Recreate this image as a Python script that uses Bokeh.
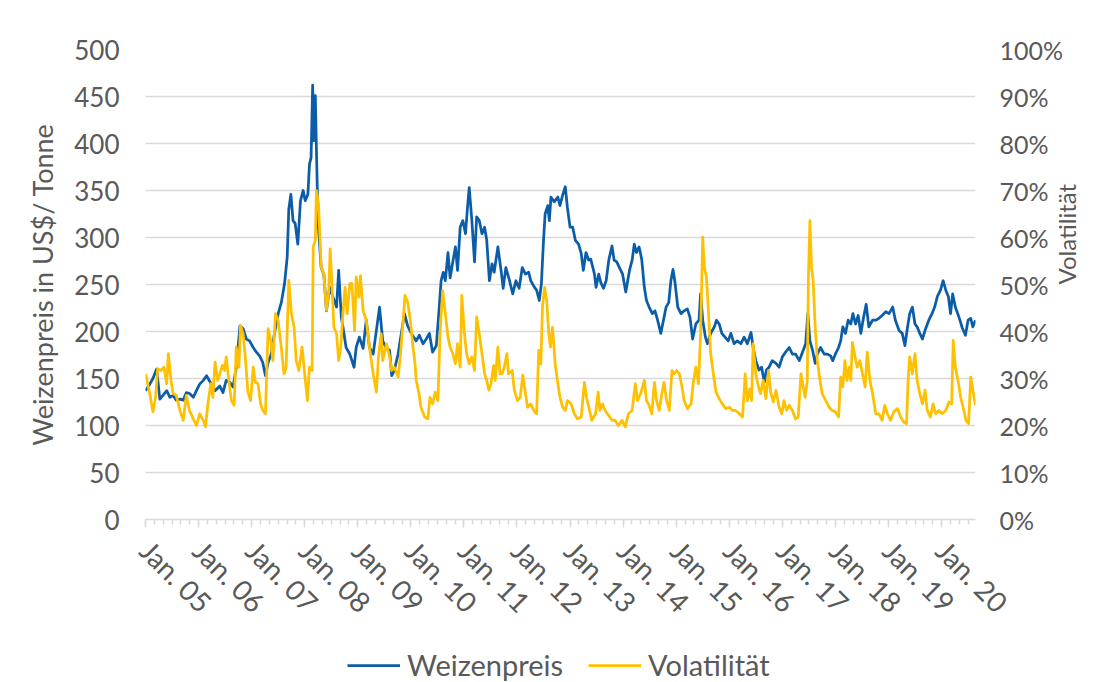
import math
from bokeh.plotting import figure
from bokeh.layouts import column
from bokeh.models import Range1d, LinearAxis, FixedTicker, PrintfTickFormatter, Legend, LegendItem
from bokeh.embed import file_html
from bokeh.resources import INLINE

# ---------------- data ----------------
# wheat price, US$/tonne; time as decimal year
price_t = [
    2005.00, 2005.08, 2005.14, 2005.21, 2005.27, 2005.33, 2005.40, 2005.46, 2005.52, 2005.58, 2005.65, 2005.71, 2005.77, 2005.83, 2005.90, 2005.96,
    2006.02, 2006.09, 2006.15, 2006.18, 2006.24, 2006.31, 2006.40, 2006.46, 2006.52, 2006.59, 2006.65, 2006.71, 2006.78, 2006.84, 2006.90, 2006.96,
    2007.03, 2007.09, 2007.15, 2007.21, 2007.26, 2007.31, 2007.37, 2007.43, 2007.50, 2007.56, 2007.62, 2007.67, 2007.70, 2007.74, 2007.78, 2007.82, 2007.87, 2007.92, 2007.97,
    2008.01, 2008.06, 2008.09, 2008.12, 2008.15, 2008.17, 2008.20, 2008.22, 2008.25, 2008.31, 2008.36, 2008.41, 2008.47, 2008.53, 2008.60, 2008.64, 2008.69, 2008.72, 2008.78, 2008.85, 2008.93, 2008.97,
    2009.03, 2009.10, 2009.16, 2009.22, 2009.29, 2009.35, 2009.41, 2009.47, 2009.54, 2009.60, 2009.64, 2009.69, 2009.76, 2009.82, 2009.88, 2009.94,
    2010.01, 2010.10, 2010.16, 2010.23, 2010.29, 2010.35, 2010.41, 2010.48, 2010.53, 2010.57, 2010.61, 2010.65, 2010.70, 2010.74, 2010.79, 2010.84, 2010.88, 2010.93, 2010.98,
    2011.03, 2011.07, 2011.10, 2011.15, 2011.20, 2011.24, 2011.29, 2011.34, 2011.39, 2011.43, 2011.48, 2011.53, 2011.57, 2011.64, 2011.70, 2011.74, 2011.79, 2011.86, 2011.92, 2011.98,
    2012.04, 2012.10, 2012.16, 2012.22, 2012.26, 2012.33, 2012.37, 2012.42, 2012.46, 2012.50, 2012.53, 2012.58, 2012.61, 2012.64, 2012.70, 2012.77, 2012.81, 2012.86, 2012.91, 2012.95,
    2013.00, 2013.05, 2013.10, 2013.16, 2013.21, 2013.25, 2013.30, 2013.35, 2013.39, 2013.46, 2013.49, 2013.54, 2013.58, 2013.63, 2013.68, 2013.73, 2013.79, 2013.83, 2013.88, 2013.93, 2013.99,
    2014.05, 2014.12, 2014.17, 2014.21, 2014.25, 2014.30, 2014.35, 2014.40, 2014.44, 2014.49, 2014.55, 2014.60, 2014.65, 2014.71, 2014.76, 2014.81, 2014.86, 2014.90, 2014.94, 2014.98,
    2015.03, 2015.09, 2015.15, 2015.21, 2015.26, 2015.31, 2015.37, 2015.43, 2015.46, 2015.50, 2015.55, 2015.59, 2015.65, 2015.72, 2015.76, 2015.81, 2015.86, 2015.92, 2015.98,
    2016.03, 2016.09, 2016.15, 2016.22, 2016.28, 2016.34, 2016.41, 2016.45, 2016.50, 2016.56, 2016.61, 2016.66, 2016.70, 2016.75, 2016.81, 2016.88, 2016.94,
    2017.00, 2017.06, 2017.13, 2017.19, 2017.25, 2017.32, 2017.38, 2017.44, 2017.48, 2017.52, 2017.57, 2017.62, 2017.66, 2017.72, 2017.79, 2017.85, 2017.91, 2017.95,
    2018.00, 2018.06, 2018.10, 2018.14, 2018.19, 2018.24, 2018.29, 2018.33, 2018.38, 2018.43, 2018.48, 2018.53, 2018.58, 2018.63, 2018.70, 2018.76, 2018.82, 2018.88, 2018.95,
    2019.01, 2019.08, 2019.13, 2019.20, 2019.26, 2019.31, 2019.35, 2019.40, 2019.45, 2019.50, 2019.54, 2019.59, 2019.64, 2019.70, 2019.76, 2019.82, 2019.87, 2019.92, 2019.98,
    2020.03, 2020.08, 2020.13, 2020.17, 2020.21, 2020.26, 2020.33, 2020.39, 2020.45, 2020.50, 2020.55, 2020.59, 2020.64,
]
price_v = [
    137, 144, 150, 160, 128, 132, 137, 130, 132, 127, 128, 127, 135, 134, 130, 137,
    144, 148, 153, 150, 144, 137, 142, 135, 148, 146, 141, 162, 206, 203, 192, 190,
    183, 178, 174, 167, 153, 167, 176, 198, 219, 231, 251, 279, 330, 346, 318, 315, 293, 339, 350,
    339, 346, 378, 385, 462, 403, 451, 396, 318, 268, 261, 222, 247, 237, 226, 265, 215, 205, 183, 176, 162, 183,
    194, 182, 212, 183, 176, 201, 226, 190, 182, 180, 153, 159, 176, 198, 219, 206,
    198, 190, 196, 187, 192, 198, 178, 185, 222, 254, 263, 254, 284, 257, 274, 290, 265, 311, 318,
    304, 334, 353, 318, 274, 322, 318, 304, 311, 297, 254, 272, 263, 290, 265, 246, 268, 254, 240, 254,
    246, 268, 261, 263, 254, 247, 244, 233, 251, 297, 325, 334, 318, 343, 338, 343, 334, 345, 354, 332,
    311, 311, 297, 293, 283, 265, 284, 276, 277, 261, 247, 261, 252, 246, 254, 276, 291, 276, 274, 268, 261,
    242, 265, 276, 293, 284, 290, 277, 247, 233, 226, 219, 222, 212, 198, 212, 226, 231, 254, 266, 251,
    226, 219, 222, 224, 215, 192, 208, 212, 240, 212, 194, 187, 198, 205, 212, 208, 198, 194, 190,
    198, 187, 190, 187, 194, 187, 199, 183, 169, 159, 162, 146, 159, 162, 169, 166, 162,
    173, 178, 183, 176, 176, 169, 178, 187, 219, 190, 180, 166, 176, 183, 176, 176, 174, 169,
    176, 183, 190, 205, 198, 212, 208, 219, 208, 217, 198, 215, 229, 205, 212, 212, 214, 217, 221,
    219, 226, 212, 201, 198, 185, 201, 219, 226, 208, 205, 198, 192, 203, 212, 219, 226, 237, 244,
    254, 244, 237, 219, 240, 226, 215, 204, 196, 212, 214, 205, 212,
]

# volatility in percent; time as decimal year
vol_t = [
    2005.00, 2005.08, 2005.14, 2005.19, 2005.23, 2005.29, 2005.35, 2005.40, 2005.43, 2005.48, 2005.52, 2005.58, 2005.65, 2005.71, 2005.77, 2005.83, 2005.90, 2005.96,
    2006.02, 2006.09, 2006.13, 2006.18, 2006.23, 2006.27, 2006.31, 2006.36, 2006.40, 2006.45, 2006.49, 2006.52, 2006.57, 2006.62, 2006.67, 2006.71, 2006.76, 2006.79, 2006.84, 2006.88, 2006.93, 2006.98,
    2007.03, 2007.07, 2007.12, 2007.17, 2007.21, 2007.26, 2007.31, 2007.36, 2007.40, 2007.45, 2007.50, 2007.55, 2007.61, 2007.65, 2007.70, 2007.75, 2007.80, 2007.84, 2007.89, 2007.95,
    2008.00, 2008.05, 2008.09, 2008.14, 2008.16, 2008.20, 2008.22, 2008.26, 2008.31, 2008.36, 2008.41, 2008.45, 2008.48, 2008.51, 2008.55, 2008.60, 2008.64, 2008.68, 2008.72, 2008.76, 2008.80, 2008.85, 2008.89, 2008.94, 2008.97,
    2009.02, 2009.05, 2009.10, 2009.16, 2009.22, 2009.29, 2009.35, 2009.39, 2009.44, 2009.47, 2009.54, 2009.60, 2009.64, 2009.69, 2009.76, 2009.80, 2009.85, 2009.89, 2009.94, 2009.99,
    2010.04, 2010.08, 2010.10, 2010.15, 2010.19, 2010.26, 2010.32, 2010.36, 2010.41, 2010.46, 2010.51, 2010.55, 2010.60, 2010.65, 2010.70, 2010.74, 2010.79, 2010.84, 2010.88, 2010.93, 2010.96,
    2011.01, 2011.05, 2011.10, 2011.15, 2011.20, 2011.24, 2011.29, 2011.34, 2011.39, 2011.43, 2011.47, 2011.51, 2011.56, 2011.59, 2011.64, 2011.68, 2011.72, 2011.76, 2011.81, 2011.84, 2011.91, 2011.95,
    2012.01, 2012.06, 2012.11, 2012.16, 2012.20, 2012.26, 2012.33, 2012.37, 2012.41, 2012.45, 2012.48, 2012.52, 2012.56, 2012.60, 2012.63, 2012.67, 2012.72, 2012.77, 2012.81, 2012.86, 2012.91, 2012.95,
    2013.02, 2013.08, 2013.14, 2013.21, 2013.27, 2013.31, 2013.36, 2013.41, 2013.48, 2013.53, 2013.56, 2013.61, 2013.66, 2013.73, 2013.79, 2013.85, 2013.91, 2013.98,
    2014.04, 2014.10, 2014.17, 2014.23, 2014.27, 2014.33, 2014.40, 2014.44, 2014.49, 2014.54, 2014.59, 2014.63, 2014.68, 2014.73, 2014.77, 2014.82, 2014.87, 2014.92, 2014.96,
    2015.01, 2015.06, 2015.11, 2015.15, 2015.21, 2015.28, 2015.32, 2015.37, 2015.42, 2015.46, 2015.50, 2015.53, 2015.57, 2015.61, 2015.65, 2015.70, 2015.75, 2015.81, 2015.87, 2015.93,
    2016.00, 2016.06, 2016.12, 2016.19, 2016.25, 2016.30, 2016.34, 2016.39, 2016.42, 2016.45, 2016.50, 2016.55, 2016.59, 2016.64, 2016.69, 2016.74, 2016.78, 2016.83, 2016.88, 2016.94, 2016.99,
    2017.03, 2017.08, 2017.13, 2017.19, 2017.25, 2017.30, 2017.35, 2017.39, 2017.43, 2017.47, 2017.49, 2017.52, 2017.55, 2017.58, 2017.62, 2017.66, 2017.70, 2017.75, 2017.82, 2017.88, 2017.94,
    2018.00, 2018.06, 2018.10, 2018.14, 2018.18, 2018.22, 2018.26, 2018.29, 2018.32, 2018.37, 2018.41, 2018.46, 2018.51, 2018.56, 2018.60, 2018.65, 2018.70, 2018.76, 2018.82, 2018.88, 2018.93, 2018.98,
    2019.04, 2019.10, 2019.17, 2019.23, 2019.29, 2019.34, 2019.37, 2019.40, 2019.45, 2019.50, 2019.54, 2019.59, 2019.64, 2019.69, 2019.73, 2019.79, 2019.84, 2019.89, 2019.95,
    2020.01, 2020.08, 2020.14, 2020.19, 2020.22, 2020.26, 2020.31, 2020.36, 2020.42, 2020.46, 2020.51, 2020.55, 2020.59, 2020.64,
]
vol_v = [
    31.0, 26.8, 22.9, 26.0, 32.1, 31.7, 32.4, 28.9, 35.3, 29.6, 26.8, 26.4, 23.2, 21.1, 26.4, 23.2, 21.4, 20.0,
    22.5, 21.1, 19.7, 25.0, 28.9, 26.0, 33.5, 29.6, 31.0, 32.8, 31.7, 34.6, 29.6, 25.3, 24.3, 36.7, 32.4, 41.3, 39.5, 34.6, 27.1, 25.3,
    32.4, 29.2, 28.9, 24.6, 23.2, 22.5, 40.6, 38.1, 33.8, 43.8, 42.4, 37.4, 31.0, 32.4, 50.9, 43.8, 40.9, 33.8, 31.7, 36.7,
    31.0, 25.3, 32.4, 31.7, 58.0, 59.4, 70.0, 67.2, 53.7, 52.3, 44.5, 48.0, 57.6, 50.9, 40.9, 39.5, 33.8, 36.7, 43.8, 49.4, 43.8, 50.2, 50.2, 40.2, 51.6,
    47.3, 51.9, 44.5, 42.4, 36.7, 31.0, 27.1, 34.6, 39.5, 33.8, 37.4, 34.6, 31.7, 32.4, 30.3, 34.6, 41.6, 47.7, 46.3, 42.4,
    36.7, 33.1, 29.6, 27.1, 23.9, 21.8, 21.4, 26.0, 24.6, 27.1, 25.3, 39.5, 48.7, 43.8, 38.8, 36.7, 35.3, 33.1, 37.4, 32.4, 47.7,
    39.5, 35.3, 33.1, 34.6, 31.7, 43.1, 39.5, 35.3, 31.0, 29.6, 27.5, 28.9, 32.8, 29.6, 36.7, 31.0, 31.0, 32.4, 35.3, 31.0, 31.7, 27.5,
    25.3, 26.0, 30.7, 26.8, 23.9, 24.6, 22.9, 22.5, 36.0, 33.1, 45.2, 49.4, 46.6, 39.5, 36.7, 40.9, 33.1, 28.9, 26.0, 23.9, 23.2, 25.3,
    24.6, 22.5, 21.4, 21.8, 29.2, 26.0, 23.6, 21.1, 22.5, 27.1, 23.2, 24.6, 23.2, 22.1, 21.1, 21.1, 20.0, 21.1,
    19.7, 22.5, 23.2, 28.9, 25.3, 26.8, 29.6, 25.3, 24.3, 22.5, 29.2, 25.3, 23.2, 26.8, 29.2, 25.3, 23.2, 31.7, 31.0,
    31.7, 31.0, 28.2, 25.3, 23.6, 24.6, 28.9, 32.4, 28.9, 39.5, 60.1, 53.7, 51.6, 43.8, 35.3, 31.0, 27.1, 25.7, 24.6, 23.6,
    23.9, 23.2, 23.2, 22.5, 21.8, 31.0, 25.3, 27.8, 25.3, 37.4, 31.0, 28.2, 26.8, 29.6, 25.7, 31.7, 27.1, 25.0, 27.5, 23.9, 22.5,
    25.3, 23.2, 24.3, 23.2, 21.4, 21.8, 31.0, 28.5, 26.0, 29.6, 50.9, 63.6, 53.7, 50.9, 40.9, 33.8, 30.3, 26.8, 25.3, 23.9, 23.2,
    22.9, 21.8, 30.3, 28.2, 33.8, 29.6, 32.4, 29.6, 37.7, 34.6, 32.4, 33.8, 31.0, 28.2, 35.6, 29.6, 26.8, 22.5, 22.5, 21.1, 24.3, 22.5,
    21.1, 22.9, 23.6, 21.8, 20.7, 20.4, 29.6, 34.6, 31.0, 35.3, 29.6, 26.8, 24.6, 27.5, 23.2, 21.8, 24.6, 22.5, 23.2,
    22.5, 23.2, 25.0, 24.6, 38.1, 32.4, 29.6, 26.0, 23.2, 21.1, 20.4, 30.3, 27.5, 24.3,
]

years = list(range(2005, 2021))
year_labels = ["Jan. 05", "Jan. 06", "Jan. 07", "Jan. 08", "Jan. 09", "Jan. 10", "Jan. 11", "Jan. 12",
               "Jan. 13", "Jan. 14", "Jan. 15", "Jan. 16", "Jan. 17", "Jan. 18", "Jan. 19", "Jan. 20"]
price_ticks = [0, 50, 100, 150, 200, 250, 300, 350, 400, 450, 500]
vol_ticks = [0, 10, 20, 30, 40, 50, 60, 70, 80, 90, 100]
series_names = ["Weizenpreis", "Volatilität"]

# ---------------- styling ----------------
FONT = "Lato"
TXT = "#595959"
GRID = "#D9D9D9"
BLUE = "#0B5DA7"
GOLD = "#FFC000"
LW = 2.75

p = figure(width=1098, height=642, output_backend="svg", toolbar_location=None,
           x_range=Range1d(2005.0, 2020.64), y_range=Range1d(0, 500),
           min_border_left=145, min_border_right=123, min_border_top=49, min_border_bottom=123)
p.outline_line_color = None
p.background_fill_color = "white"
p.border_fill_color = "white"
p.extra_y_ranges = {"vol": Range1d(0, 100)}

p.line(price_t, price_v, line_color=BLUE, line_width=LW, line_join="round")
p.line(vol_t, vol_v, line_color=GOLD, line_width=LW, line_join="round", y_range_name="vol")

# grid
p.xgrid.visible = False
p.ygrid.grid_line_color = GRID
p.ygrid.grid_line_width = 1.5

# x axis
minor = [2005 + k / 6 for k in range(0, 94)]
xa = p.xaxis[0]
xa.ticker = FixedTicker(ticks=years, minor_ticks=minor)
xa.major_label_overrides = {y: lab for y, lab in zip(years, year_labels)}
xa.major_label_orientation = -math.pi / 4
xa.axis_line_color = GRID
xa.axis_line_width = 1.5
xa.major_tick_line_color = GRID
xa.minor_tick_line_color = GRID
xa.major_tick_line_width = 1.5
xa.minor_tick_line_width = 1.5
xa.major_tick_out = 8
xa.major_tick_in = 0
xa.minor_tick_out = 5
xa.minor_tick_in = 0
xa.major_label_standoff = 18
xa.major_label_text_font = FONT
xa.major_label_text_font_size = "28px"
xa.major_label_text_color = TXT

# left axis
ya = p.yaxis[0]
ya.ticker = FixedTicker(ticks=price_ticks)
ya.axis_line_color = None
ya.major_tick_line_color = None
ya.minor_tick_line_color = None
ya.major_tick_out = 0
ya.major_tick_in = 0
ya.major_label_standoff = 26
ya.major_label_text_font = FONT
ya.major_label_text_font_size = "26px"
ya.major_label_text_color = TXT
ya.axis_label = "Weizenpreis in US$/ Tonne"
ya.axis_label_text_font = FONT
ya.axis_label_text_font_size = "27px"
ya.axis_label_text_font_style = "normal"
ya.axis_label_text_color = TXT
ya.axis_label_standoff = 12

# right axis
ra = LinearAxis(y_range_name="vol", ticker=FixedTicker(ticks=vol_ticks),
                formatter=PrintfTickFormatter(format="%d%%"))
ra.axis_line_color = None
ra.major_tick_line_color = None
ra.minor_tick_line_color = None
ra.major_tick_out = 0
ra.major_tick_in = 0
ra.major_label_standoff = 24
ra.major_label_text_font = FONT
ra.major_label_text_font_size = "25px"
ra.major_label_text_color = TXT
ra.axis_label = "Volatilität"
ra.axis_label_text_font = FONT
ra.axis_label_text_font_size = "24px"
ra.axis_label_text_font_style = "normal"
ra.axis_label_text_color = TXT
ra.axis_label_standoff = 0
ra.axis_label_orientation = math.pi / 2
p.add_layout(ra, "right")

# ---------------- legend strip (separate figure below the chart) ----------------
lf = figure(width=1098, height=40, output_backend="svg", toolbar_location=None,
            x_range=Range1d(0, 1), y_range=Range1d(0, 1), min_border=0)
lf.axis.visible = False
lf.grid.visible = False
lf.outline_line_color = None
lf.background_fill_color = "white"
lf.border_fill_color = "white"
# proxy lines (outside the visible range) that only supply the legend swatches
k1 = lf.line([-3, -2], [-3, -2], line_color=BLUE, line_width=LW)
k2 = lf.line([-3, -2], [-3, -2], line_color=GOLD, line_width=LW)
legend = Legend(items=[LegendItem(label=series_names[0], renderers=[k1]),
                       LegendItem(label=series_names[1], renderers=[k2])],
                orientation="horizontal", location=(202, 0),
                label_text_font=FONT, label_text_font_size="29px", label_text_color=TXT,
                glyph_width=53, glyph_height=30, label_height=30, label_standoff=7,
                spacing=25, padding=0, margin=0,
                border_line_color=None, background_fill_alpha=0)
lf.add_layout(legend)

layout = column(p, lf, spacing=0)
open("out.html", "w").write(file_html(layout, INLINE))
